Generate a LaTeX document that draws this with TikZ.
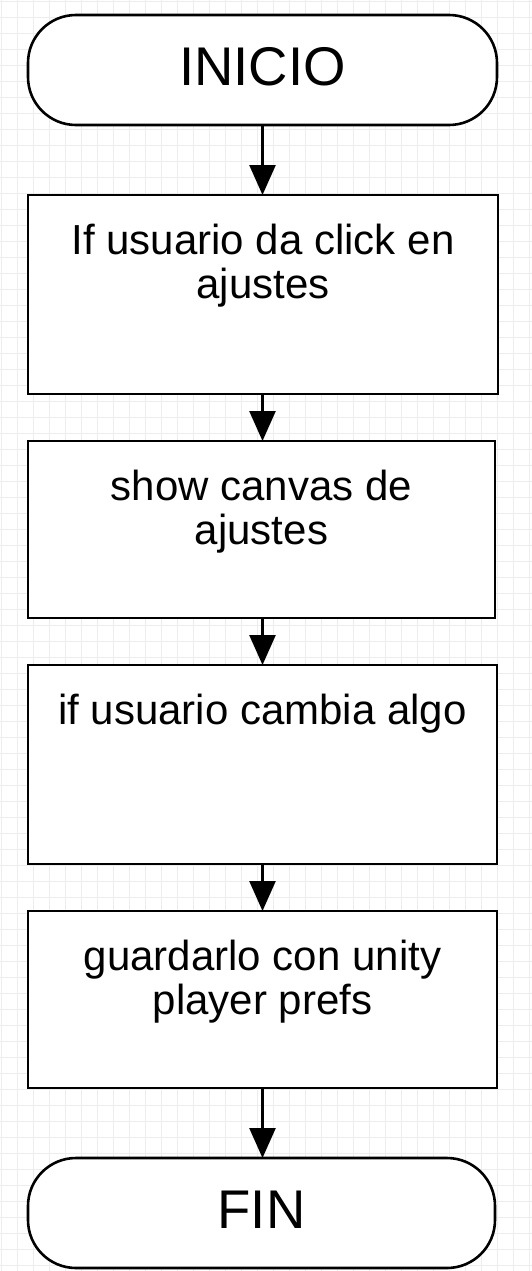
\documentclass[tikz,border=0pt]{standalone}
\usepackage{fontspec}
\setmainfont{Liberation Sans}
\usetikzlibrary{positioning,arrows.meta}

\tikzset{
  terminal/.style={draw, line width=2.6pt, fill=white, rounded corners=48pt, outer sep=0pt,
    minimum height=110pt, font=\fontsize{54.5}{60}\selectfont, text height=39pt, text depth=8pt},
  process/.style={draw, line width=2.6pt, fill=white, outer sep=0pt},
  proctext/.style={inner sep=0pt, align=center, font=\fontsize{42}{44}\selectfont},
  flow/.style={-{Triangle[length=30pt,width=26pt]}, line width=2.6pt},
  gridline/.style={draw=black!7, line width=0.9pt}
}

\begin{document}
\begin{tikzpicture}[x=1pt, y=-1pt]
    \fill [white] (0,0) rectangle (532,1271);
    \useasboundingbox (0,0) rectangle (532,1271);
    % background grid
    \foreach \g in {0,...,33} \draw [gridline] (1.7+16*\g,0) -- ++(0,1271);
    \foreach \g in {0,...,79} \draw [gridline] (0,1.7+16*\g) -- ++(532,0);

    \node [terminal, minimum width=469pt] (inicio) at (262.5,70) {INICIO};
    \node [process, minimum width=470pt, minimum height=199pt] (click) at (263,294.5) {};
    \node [process, minimum width=467pt, minimum height=177pt] (canvas) at (261.5,529.5) {};
    \node [process, minimum width=469pt, minimum height=199pt] (cambio) at (262.5,764.5) {};
    \node [process, minimum width=469pt, minimum height=177pt] (guardar) at (262.5,999.5) {};
    \node [terminal, minimum width=467pt] (fin) at (261.5,1213) {FIN};

    \node [proctext, below=29pt of click.north] (clicktxt) {If usuario da click en\\ajustes};
    \node [proctext, below=29pt of canvas.north] (canvastxt) {show canvas de\\ajustes};
    \node [proctext, below=29pt of cambio.north] (cambiotxt) {if usuario cambia algo};
    \node [proctext, below=29pt of guardar.north] (guardartxt) {guardarlo con unity\\player prefs};

    \draw [flow] (inicio.south) -- (inicio.south |- click.north);
    \draw [flow] (inicio.south |- click.south) -- (inicio.south |- canvas.north);
    \draw [flow] (inicio.south |- canvas.south) -- (inicio.south |- cambio.north);
    \draw [flow] (inicio.south |- cambio.south) -- (inicio.south |- guardar.north);
    \draw [flow] (inicio.south |- guardar.south) -- (inicio.south |- fin.north);
\end{tikzpicture}
\end{document}
